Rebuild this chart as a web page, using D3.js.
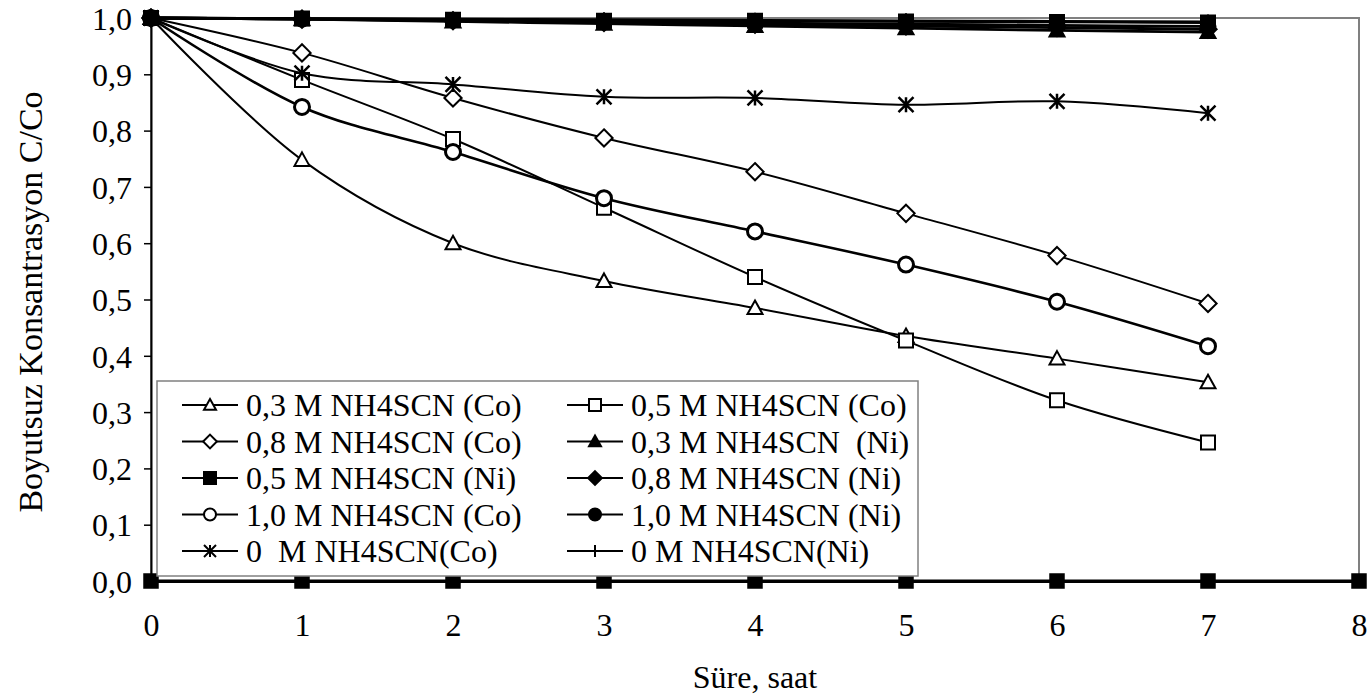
<!DOCTYPE html>
<html><head><meta charset="utf-8">
<script src="https://cdn.jsdelivr.net/npm/d3@7"></script>
<style>
body{margin:0;background:#fff;}
svg text{font-family:"Liberation Serif","Times New Roman","DejaVu Serif",serif;fill:#000;}
</style></head>
<body><svg id="c" width="1368" height="699"></svg>
<script>
// ---- data ----
const hours = [0,1,2,3,4,5,6,7];
const xTickLabels = [0,1,2,3,4,5,6,7,8];
const yTickValues = [0,0.1,0.2,0.3,0.4,0.5,0.6,0.7,0.8,0.9,1.0];
const zeroHours = [0,1,2,3,4,5,6,7,8];
const zeroValues = [0,0,0,0,0,0,0,0,0];

const co03 = [1, 0.748, 0.600, 0.533, 0.485, 0.435, 0.395, 0.353];
const co05 = [1, 0.890, 0.785, 0.663, 0.540, 0.427, 0.321, 0.246];
const co08 = [1, 0.938, 0.858, 0.787, 0.727, 0.653, 0.578, 0.493];
const ni03 = [1, 0.998, 0.994, 0.990, 0.986, 0.982, 0.978, 0.975];
const ni05 = [1, 0.999, 0.997, 0.995, 0.995, 0.994, 0.993, 0.992];
const ni08 = [1, 0.998, 0.995, 0.992, 0.989, 0.986, 0.983, 0.980];
const co10 = [1, 0.842, 0.762, 0.680, 0.621, 0.562, 0.496, 0.417];
const ni10 = [1, 0.998, 0.996, 0.993, 0.991, 0.989, 0.987, 0.985];
const co00 = [1, 0.902, 0.882, 0.860, 0.858, 0.846, 0.852, 0.831];
const ni00 = [1, 0.999, 0.998, 0.997, 0.996, 0.995, 0.994, 0.993];

const seriesNames = ["0,3 M NH4SCN (Co)","0,5 M NH4SCN (Co)","0,8 M NH4SCN (Co)","0,3 M NH4SCN\u00a0 (Ni)",
  "0,5 M NH4SCN (Ni)","0,8 M NH4SCN (Ni)","1,0 M NH4SCN (Co)","1,0 M NH4SCN (Ni)","0\u00a0 M NH4SCN(Co)","0 M NH4SCN(Ni)"];
const seriesValues = [co03, co05, co08, ni03, ni05, ni08, co10, ni10, co00, ni00];
const seriesMarkers = ["triangle","square","diamond","triangle","square","diamond","circle","circle","asterisk","plus"];
const seriesFilled = [false,false,false,true,true,true,false,true,false,false];

// ---- layout ----
const svg = d3.select("#c");
const x = d3.scaleLinear().domain([0,8]).range([151,1359]);
const y = d3.scaleLinear().domain([0,1]).range([581,18]);
const fmt = d => d.toFixed(1).replace(".", ",");
const FS = 32;

// plot border (gray)
svg.append("rect").attr("x",x(0)).attr("y",y(1)).attr("width",x(8)-x(0)).attr("height",y(0)-y(1))
  .attr("fill","none").attr("stroke","#808080").attr("stroke-width",2);

function markerPath(type, s){
  const h = s/2;
  switch(type){
    case "triangle": return `M0,${-h}L${h},${h*0.8}L${-h},${h*0.8}Z`;
    case "square": return `M${-h},${-h}H${h}V${h}H${-h}Z`;
    case "diamond": return `M0,${-h*1.15}L${h*1.15},0L0,${h*1.15}L${-h*1.15},0Z`;
    case "circle": return `M${h},0A${h},${h} 0 1,1 ${-h},0A${h},${h} 0 1,1 ${h},0Z`;
    case "asterisk": return `M${-h},${-h}L${h},${h}M${h},${-h}L${-h},${h}M0,${-h}V${h}`;
    case "plus": return `M${-h},0H${h}M0,${-h}V${h}`;
  }
}
function drawMarker(g, type, filled, s, sw){
  const p = g.append("path").attr("d", markerPath(type,s)).attr("stroke","#000")
    .attr("stroke-width", sw).attr("stroke-linejoin","miter");
  if(type==="asterisk"||type==="plus") p.attr("fill","none");
  else p.attr("fill", filled ? "#000" : "#fff");
  return p;
}

const line = d3.line().x(d=>x(d[0])).y(d=>y(d[1])).curve(d3.curveCatmullRom.alpha(0.5));

// zero series (thick line along bottom with squares)
svg.append("path").datum(zeroHours.map((h,i)=>[h,zeroValues[i]])).attr("d",line)
  .attr("fill","none").attr("stroke","#000").attr("stroke-width",3);

// axes
const yAxis = d3.axisLeft(y).tickValues(yTickValues).tickFormat(fmt).tickSize(7).tickPadding(12);
const ya = svg.append("g").attr("transform",`translate(${x(0)},0)`).call(yAxis);
ya.select(".domain").attr("stroke","#000").attr("stroke-width",2);
ya.selectAll(".tick line").attr("stroke","#000").attr("stroke-width",1.5);
ya.selectAll("text").style("font-size",FS+"px").style("font-family",null).attr("dy","0.35em");

const xAxis = d3.axisBottom(x).tickValues(xTickLabels).tickFormat(d=>d).tickSize(6).tickPadding(26);
const xa = svg.append("g").attr("transform",`translate(0,${y(0)})`).call(xAxis);
xa.select(".domain").attr("stroke","#000").attr("stroke-width",3);
xa.selectAll(".tick line").attr("stroke","#000").attr("stroke-width",1.5);
xa.selectAll("text").style("font-size",FS+"px");
ya.attr("font-family",null); xa.attr("font-family",null);

zeroHours.forEach((h,i)=>{
  const g = svg.append("g").attr("transform",`translate(${x(h)},${y(zeroValues[i])})`);
  drawMarker(g,"square",true,14,1.5);
});

// series
seriesValues.forEach((vals,si)=>{
  const isNi = seriesFilled[si] || si===9;
  const lw = si===6 ? 2.6 : (isNi ? 2.8 : 2);
  svg.append("path").datum(hours.map((h,i)=>[h,vals[i]])).attr("d",line)
    .attr("fill","none").attr("stroke","#000").attr("stroke-width",lw);
  hours.forEach((h,i)=>{
    const g = svg.append("g").attr("transform",`translate(${x(h)},${y(vals[i])})`);
    const type = seriesMarkers[si];
    const s = type==="square" ? 14 : 15;
    const sw = si===6 ? 3 : (type==="asterisk" ? 2.5 : 2);
    drawMarker(g,type,seriesFilled[si],s,sw);
  });
});

// legend
const lg = svg.append("g");
lg.append("rect").attr("x",157).attr("y",381).attr("width",761).attr("height",195)
  .attr("fill","#fff").attr("stroke","#808080").attr("stroke-width",1.5);
seriesNames.forEach((name,i)=>{
  const col = i%2, row = Math.floor(i/2);
  const x0 = col===0 ? 182 : 567;
  const cy = 405 + row*36.5;
  const g = lg.append("g");
  g.append("line").attr("x1",x0).attr("x2",x0+56).attr("y1",cy).attr("y2",cy)
    .attr("stroke","#000").attr("stroke-width",2);
  const mg = g.append("g").attr("transform",`translate(${x0+28},${cy})`);
  drawMarker(mg, seriesMarkers[i], seriesFilled[i], 12, 2);
  g.append("text").attr("x",x0+64).attr("y",cy).attr("dy","0.35em")
    .style("font-size",FS+"px").text(name);
});

// axis titles
svg.append("text").attr("x",755).attr("y",688).attr("text-anchor","middle")
  .style("font-size",FS+"px").text("Süre, saat");
svg.append("text").attr("transform","translate(42,302) rotate(-90)").attr("text-anchor","middle")
  .style("font-size","34px").text("Boyutsuz Konsantrasyon C/Co");
</script></body></html>
